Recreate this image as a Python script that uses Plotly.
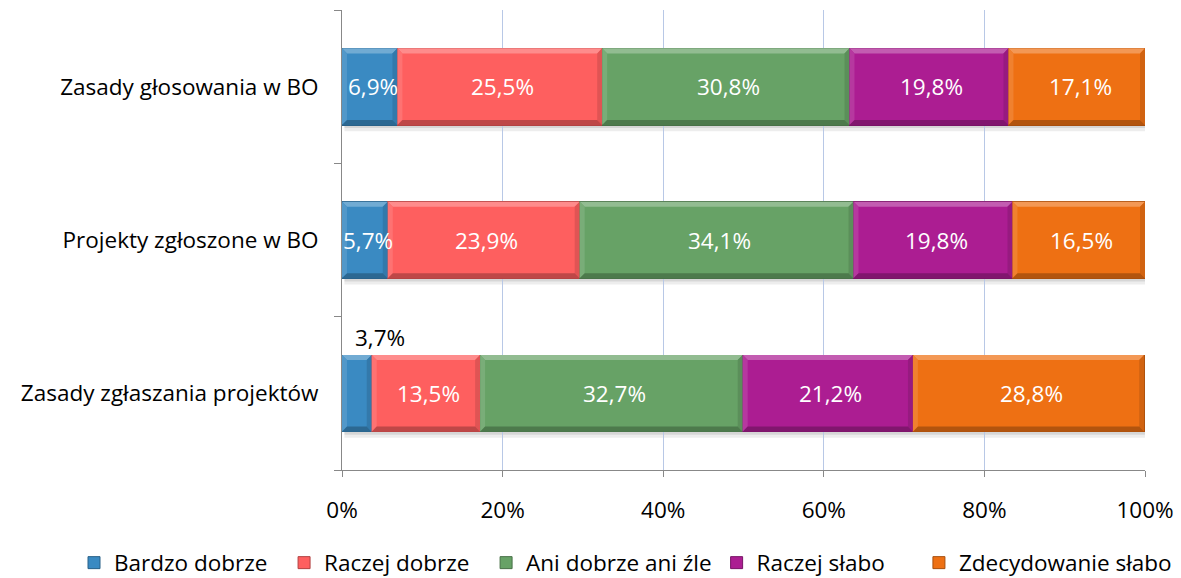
import plotly.graph_objects as go

categories = ["Zasady głosowania w BO", "Projekty zgłoszone w BO", "Zasady zgłaszania projektów"]
series_names = ["Bardzo dobrze", "Raczej dobrze", "Ani dobrze ani źle", "Raczej słabo", "Zdecydowanie słabo"]
bardzo_dobrze = [6.9, 5.7, 3.7]
raczej_dobrze = [25.5, 23.9, 13.5]
ani_dobrze_ani_zle = [30.8, 34.1, 32.7]
raczej_slabo = [19.8, 19.8, 21.2]
zdecydowanie_slabo = [17.1, 16.5, 28.8]
x_ticks = [0, 20, 40, 60, 80, 100]
x_tick_labels = ["0%", "20%", "40%", "60%", "80%", "100%"]

colors = ["#3A8AC2", "#FE5F5F", "#67A266", "#AC1D92", "#EE7013"]
series_values = [bardzo_dobrze, raczej_dobrze, ani_dobrze_ani_zle, raczej_slabo, zdecydowanie_slabo]

FONT = "Open Sans"
FS = 22.5
BAR_W = 0.5          # bar thickness in category units
BEVEL_Y = 0.033      # bevel depth, category units
BEVEL_X = 0.62       # bevel depth, percent units
NBSP = "\u00a0"
LEGEND_PAD = [2, 2, 0, 5, 0]   # extra spacing after each legend entry


def pct(v):
    return f"{v:.1f}".replace(".", ",") + "%"


def mix(hex_col, target, t):
    c = [int(hex_col[i:i + 2], 16) for i in (1, 3, 5)]
    m = [round(a + (target - a) * t) for a in c]
    return "#" + "".join(f"{v:02X}" for v in m)


positions = list(range(len(categories)))

fig = go.Figure()
for name, vals, col, pad in zip(series_names, series_values, colors, LEGEND_PAD):
    fig.add_trace(go.Bar(
        y=positions, x=vals, name=name + NBSP * pad, orientation="h", width=BAR_W,
        marker=dict(color=col, line=dict(color=mix(col, 0, 0.3), width=1)),
        hoverinfo="skip",
    ))

# soft shadow under each bar
for p in positions:
    yb = p + BAR_W / 2
    fig.add_shape(type="rect", xref="x", yref="y", x0=0.3, x1=100, y0=yb, y1=yb + 0.02,
                  fillcolor="rgba(0,0,0,0.16)", line_width=0, layer="below")
    fig.add_shape(type="rect", xref="x", yref="y", x0=0.3, x1=100, y0=yb + 0.02, y1=yb + 0.04,
                  fillcolor="rgba(0,0,0,0.07)", line_width=0, layer="below")

# bevelled edges and value labels on every segment
for p in positions:
    start = 0.0
    yt, yb = p - BAR_W / 2, p + BAR_W / 2
    for vals, col in zip(series_values, colors):
        v = vals[p]
        x0 = start
        x1 = min(start + v, 100.0)
        start += v
        d = min(BEVEL_X, (x1 - x0) / 2)
        h = BEVEL_Y
        faces = [
            (f"M{x0},{yt} L{x1},{yt} L{x1 - d},{yt + h} L{x0 + d},{yt + h} Z", mix(col, 255, 0.28)),
            (f"M{x0},{yt} L{x0 + d},{yt + h} L{x0 + d},{yb - h} L{x0},{yb} Z", mix(col, 255, 0.12)),
            (f"M{x1},{yt} L{x1},{yb} L{x1 - d},{yb - h} L{x1 - d},{yt + h} Z", mix(col, 0, 0.12)),
            (f"M{x0},{yb} L{x1},{yb} L{x1 - d},{yb - h} L{x0 + d},{yb - h} Z", mix(col, 0, 0.25)),
        ]
        for path, fc in faces:
            fig.add_shape(type="path", xref="x", yref="y", path=path,
                          fillcolor=fc, line_width=0, layer="above")
        if v >= 5:
            fig.add_annotation(
                x=x0 + v / 2, y=p, text=pct(v), showarrow=False,
                xanchor="center", yanchor="middle", xshift=3,
                font=dict(family=FONT, size=FS, color="white"),
            )
        else:
            # too thin for an inside label: put it above the bar
            fig.add_annotation(
                x=x0 + v, y=p, text=pct(v), showarrow=False,
                xanchor="center", yanchor="bottom", xshift=8, yshift=38,
                font=dict(family=FONT, size=FS, color="black"),
            )

fig.update_layout(
    barmode="stack",
    width=1181, height=578,
    margin=dict(l=342, r=36, t=10, b=108, autoexpand=False),
    paper_bgcolor="white", plot_bgcolor="white",
    font=dict(family=FONT, size=FS, color="black"),
    showlegend=True,
    legend=dict(
        orientation="h", traceorder="normal",
        x=(74 - 342) / 803, xanchor="left",
        y=(470 - 563) / 460, yanchor="middle",
        font=dict(family=FONT, size=FS, color="black"),
        itemwidth=30, tracegroupgap=0,
    ),
)

fig.update_xaxes(
    range=[0, 100], tickvals=x_ticks, ticktext=x_tick_labels,
    showgrid=True, gridcolor="#B8C8E6", gridwidth=1,
    showline=True, linecolor="#888888", linewidth=1,
    ticks="outside", ticklen=6, tickcolor="#888888",
    ticklabelstandoff=14, zeroline=False,
    tickfont=dict(family=FONT, size=FS, color="black"),
)
fig.update_yaxes(
    range=[len(categories) - 0.5, -0.5],
    tickvals=positions, ticktext=categories,
    ticks="", showgrid=False, zeroline=False,
    showline=True, linecolor="#888888", linewidth=1,
    ticklabelstandoff=18,
    tickfont=dict(family=FONT, size=FS, color="black"),
    minor=dict(tickvals=[p - 0.5 for p in positions] + [positions[-1] + 0.5],
               ticks="outside", ticklen=7, tickcolor="#888888", showgrid=False),
)

fig.write_html("out.html")
